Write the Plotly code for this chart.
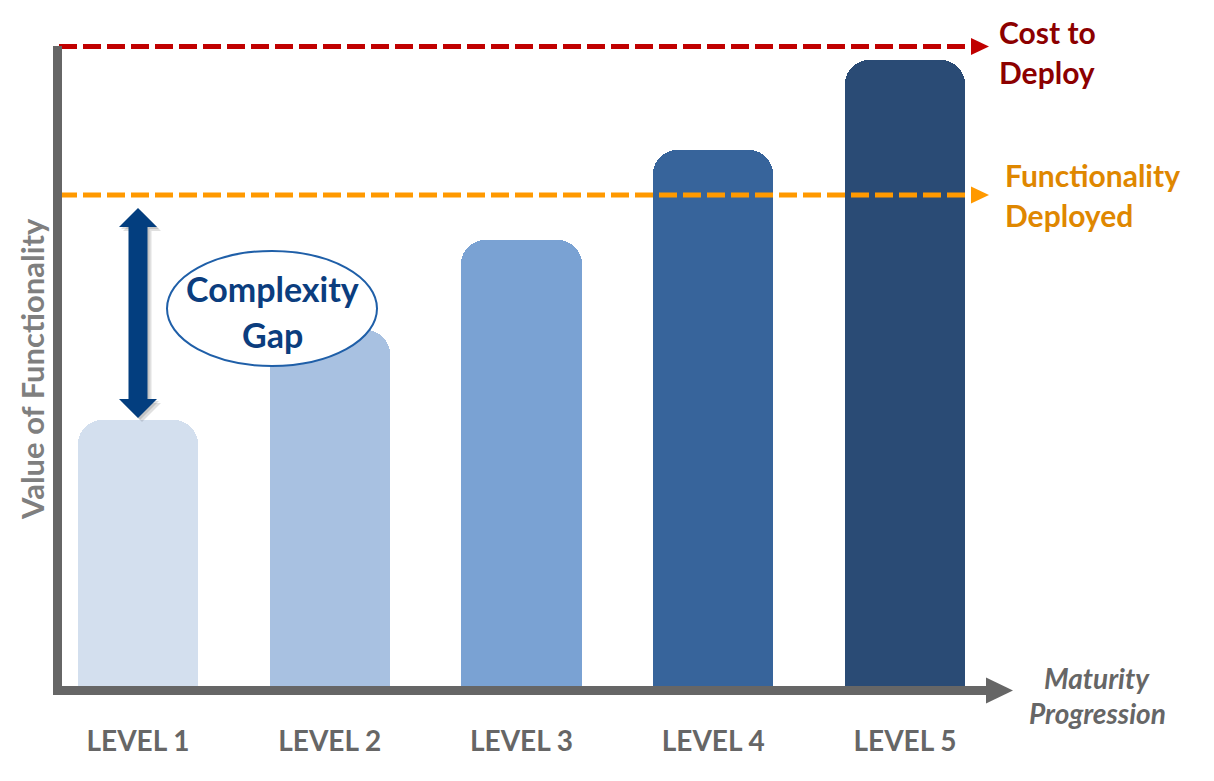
import plotly.graph_objects as go

# ---------------- data ----------------
levels = ["LEVEL 1", "LEVEL 2", "LEVEL 3", "LEVEL 4", "LEVEL 5"]
functionality_value = [3, 4, 5, 6, 7]
bar_colors = ["#D3DFEE", "#A8C1E1", "#7AA2D3", "#37649B", "#2A4B75"]
cost_to_deploy = 7.15
functionality_deployed = 5.5

# ---------------- geometry helpers ----------------
W, H = 1214, 781
PLOT_BOTTOM = 690          # pixel row of the x axis
PX_PER_CAT = 191.75
FIRST_CAT_PX = 138
Y_MAX = PLOT_BOTTOM / 90.0


def px(x):
    return x / W


def py(y):
    return (PLOT_BOTTOM - y) / PLOT_BOTTOM


FONT = "Lato"
GREY = "#666666"

fig = go.Figure()
fig.add_trace(go.Bar(
    x=levels,
    y=functionality_value,
    width=0.626,
    marker=dict(color=bar_colors, line=dict(width=0), cornerradius=24),
    hoverinfo="skip",
    showlegend=False,
))

shapes = []
# dashed reference lines
shapes.append(dict(type="line", xref="paper", yref="y", x0=px(59), x1=px(972),
                   y0=cost_to_deploy, y1=cost_to_deploy,
                   line=dict(color="#C00000", width=5, dash="18px,6px")))
shapes.append(dict(type="line", xref="paper", yref="y", x0=px(59), x1=px(972),
                   y0=functionality_deployed, y1=functionality_deployed,
                   line=dict(color="#FF9900", width=5, dash="18px,6px")))


def tri_right(x0, x1, yc, h, color):
    return dict(type="path", xref="paper", yref="paper",
                path=f"M {px(x0)} {py(yc - h)} L {px(x1)} {py(yc)} L {px(x0)} {py(yc + h)} Z",
                fillcolor=color, line=dict(width=0))


cost_px = PLOT_BOTTOM - cost_to_deploy * 90
func_px = PLOT_BOTTOM - functionality_deployed * 90
shapes.append(tri_right(971, 989, cost_px, 8.5, "#C00000"))
shapes.append(tri_right(971, 989, func_px, 8.5, "#FF9900"))

# axes (drawn as thick lines with arrow)
shapes.append(dict(type="line", xref="paper", yref="paper", x0=px(57.5), x1=px(57.5),
                   y0=py(46), y1=py(695), line=dict(color=GREY, width=9)))
shapes.append(dict(type="line", xref="paper", yref="paper", x0=px(53), x1=px(988),
                   y0=py(690.5), y1=py(690.5), line=dict(color=GREY, width=9)))
shapes.append(tri_right(986, 1013, 690.5, 13, GREY))

# double-headed complexity arrow
cx = FIRST_CAT_PX
top = func_px + 13
bot = PLOT_BOTTOM - functionality_value[0] * 90 - 2
hw, sw, hl = 19, 9.5, 19


def arrow_path(dx=0, dy=0):
    pts = [(cx, top), (cx + hw, top + hl), (cx + sw, top + hl), (cx + sw, bot - hl),
           (cx + hw, bot - hl), (cx, bot), (cx - hw, bot - hl), (cx - sw, bot - hl),
           (cx - sw, top + hl), (cx - hw, top + hl)]
    s = " ".join(("M" if i == 0 else "L") + f" {px(x + dx)} {py(y + dy)}" for i, (x, y) in enumerate(pts))
    return s + " Z"


shapes.append(dict(type="path", xref="paper", yref="paper", path=arrow_path(4, 4),
                   fillcolor="rgba(0,0,0,0.12)", line=dict(width=0)))
shapes.append(dict(type="path", xref="paper", yref="paper", path=arrow_path(2, 2),
                   fillcolor="rgba(0,0,0,0.12)", line=dict(width=0)))
shapes.append(dict(type="path", xref="paper", yref="paper", path=arrow_path(),
                   fillcolor="#033E7F", line=dict(width=0)))

# ellipse
shapes.append(dict(type="circle", xref="paper", yref="paper",
                   x0=px(167), x1=px(377), y0=py(366), y1=py(251),
                   fillcolor="white", line=dict(color="#1F5FA8", width=2)))

annotations = []


def label(text, x, y, color, size, xanchor="center", italic=False):
    annotations.append(dict(
        text=text, x=px(x), y=py(y), xref="paper", yref="paper",
        xanchor=xanchor, yanchor="middle", showarrow=False,
        font=dict(family=FONT, size=size, color=color, weight="bold",
                  style="italic" if italic else "normal")))


label("Cost to", 997, 32, "#8C0000", 30, xanchor="left")
label("Deploy", 997, 72, "#8C0000", 30, xanchor="left")
label("Functionality", 1003, 175, "#DF8700", 30, xanchor="left")
label("Deployed", 1003, 215, "#DF8700", 30, xanchor="left")
label("Complexity", 272, 289, "#0B3D7E", 34)
label("Gap", 272, 334, "#0B3D7E", 34)
label("Maturity", 1097, 678, GREY, 28, italic=True)
label("Progression", 1097, 713, GREY, 28, italic=True)

annotations.append(dict(
    text="Value of Functionality", x=px(32), y=py(369), xref="paper", yref="paper",
    xanchor="center", yanchor="middle", showarrow=False, textangle=-90,
    font=dict(family=FONT, size=31, color="#7F7F7F", weight="bold")))

x_lo = -FIRST_CAT_PX / PX_PER_CAT
x_hi = x_lo + W / PX_PER_CAT

fig.update_layout(
    width=W, height=H,
    margin=dict(l=0, r=0, t=0, b=H - PLOT_BOTTOM, pad=0),
    paper_bgcolor="white", plot_bgcolor="white",
    shapes=shapes, annotations=annotations,
    xaxis=dict(type="category", categoryorder="array", categoryarray=levels,
               range=[x_lo, x_hi], showgrid=False, zeroline=False, showline=False,
               ticks="", ticklabelstandoff=32,
               tickfont=dict(family=FONT, size=28, color=GREY, weight="bold"),
               fixedrange=True),
    yaxis=dict(range=[0, Y_MAX], showgrid=False, zeroline=False, showline=False,
               showticklabels=False, ticks="", fixedrange=True),
    bargap=0, showlegend=False,
)

fig.write_html("out.html", config={"displayModeBar": False})
